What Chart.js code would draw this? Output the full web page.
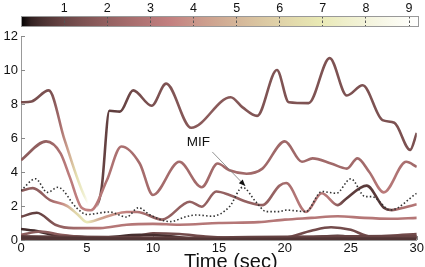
<!DOCTYPE html>
<html>
<head>
<meta charset="utf-8">
<script src="https://cdn.jsdelivr.net/npm/chart.js@4/dist/chart.umd.min.js"></script>
<style>
  html, body { margin: 0; padding: 0; background: #fff; overflow: hidden; }
  canvas { position: absolute; left: 0; top: 0; }
</style>
</head>
<body>
<canvas id="main" width="425" height="275"></canvas>
<canvas id="bar" width="425" height="32"></canvas>
<script>
// knots: time (s), value, and colour value along each line
const topT = [0, 0.8, 2.1, 3.3, 4.8, 5.5, 6.1, 6.7, 7.5, 8.5, 9.9, 11.0, 12.9, 15.9, 16.8, 17.9, 19.4, 20.3, 21.8, 23.4, 24.7, 25.9, 27.4, 28.3, 29.5, 30];
const topY = [8.1, 8.15, 8.8, 5.9, 2.6, 1.9, 3.0, 7.6, 7.55, 8.8, 7.9, 9.2, 6.6, 8.4, 7.8, 7.3, 10.0, 8.1, 8.05, 10.7, 8.5, 9.1, 7.05, 6.9, 5.3, 6.3];
const topShade = [[0, 1.3], [2.3, 1.4], [3.0, 2.6], [3.6, 4.5], [4.2, 6.5], [4.8, 7.8], [5.1, 9.2], [5.7, 9.2], [6.0, 1.0], [7, 0.8], [9, 1.3], [14, 1.8], [18, 1.5], [30, 1.4]];

const secT = [0, 1.9, 3.0, 3.7, 4.6, 5.3, 6.5, 7.6, 9.0, 10.0, 12.0, 13.7, 14.9, 15.8, 17.1, 18.3, 20.0, 21.3, 22.1, 23.5, 24.7, 25.5, 26.4, 27.5, 29.2, 30];
const secY = [4.7, 5.8, 5.1, 3.7, 1.9, 1.75, 3.5, 5.5, 4.5, 2.65, 4.6, 3.1, 4.5, 4.1, 3.9, 4.2, 5.8, 4.6, 4.8, 4.5, 4.2, 4.8, 4.0, 2.8, 4.6, 4.3];
const secShade = [[0, 1.8], [2, 2.0], [3.5, 3.2], [5, 3.5], [6.5, 2.8], [9, 2.5], [20, 2.3], [26, 2.4], [27.5, 3.2], [30, 2.3]];

const mifT = [0, 1.1, 2.0, 2.8, 4.2, 5.0, 6.7, 8.0, 8.9, 9.8, 11.3, 12.5, 13.3, 14.5, 15.8, 16.8, 17.8, 18.6, 19.6, 20.1, 21.6, 22.8, 23.9, 25.0, 26.1, 26.6, 28.0, 30];
const mifY = [2.9, 3.6, 2.8, 3.1, 1.9, 1.5, 1.65, 1.35, 1.9, 1.47, 1.08, 1.37, 1.47, 1.4, 1.96, 3.1, 2.25, 1.67, 1.67, 1.76, 1.67, 2.85, 2.75, 3.6, 2.55, 2.55, 1.76, 2.75];

const midT = [0, 0.9, 2.2, 3.5, 4.3, 5.0, 6.0, 7.0, 8.0, 8.8, 10.7, 12.8, 13.7, 14.8, 15.8, 17.1, 18.3, 19.6, 20.1, 21.6, 22.8, 24.0, 24.6, 26.2, 27.5, 28.1, 29.0, 30];
const midY = [2.9, 3.05, 2.35, 2.0, 1.5, 1.05, 1.25, 1.5, 1.65, 1.65, 1.2, 2.25, 1.96, 2.85, 2.65, 2.25, 2.05, 3.2, 3.35, 1.65, 2.75, 2.05, 2.4, 3.2, 1.9, 1.76, 1.9, 2.1];
const midShade = [[0, 1.8], [2, 2.0], [3, 3.5], [4, 6.0], [5, 7.0], [6, 4.5], [8, 3.5], [10, 2.0], [19, 2.0], [21, 3.0], [23.5, 3.0], [24.6, 0.8], [27.5, 0.7], [28.5, 2.5], [30, 3.0]];

const lowT = [0, 1.2, 2.6, 4.0, 6.0, 8.0, 10.0, 12.0, 15, 18, 20, 22, 24, 26, 28, 30];
const lowY = [1.37, 1.6, 0.9, 0.7, 0.7, 0.9, 0.95, 0.9, 1.0, 1.05, 1.2, 1.3, 1.4, 1.3, 1.25, 1.3];
const lowShade = [[0, 1.2], [1.2, 0.8], [3, 2.0], [6, 3.0], [30, 3.0]];

const darkT = [0, 1, 2.5, 4, 6, 9, 11, 13, 18, 22, 24, 26, 30];
const darkY = [0.65, 0.55, 0.3, 0.2, 0.15, 0.3, 0.25, 0.1, 0.08, 0.15, 0.25, 0.1, 0.15];
const darkShade = [[0, 0.4], [30, 0.6]];

const maroonT = [0, 1.5, 3, 5, 8, 12, 20, 26, 28, 30];
const maroonY = [0.3, 0.5, 0.3, 0.15, 0.1, 0.05, 0.05, 0.12, 0.2, 0.2];
const maroonShade = [[0, 1.8], [30, 1.5]];

const floorT = [0, 5, 10, 15, 20, 25, 30];
const floorY = [0.12, 0.08, 0.05, 0.03, 0.05, 0.06, 0.05];
const floorShade = [[0, 0.6], [30, 0.6]];

const layerT = [0, 4, 8, 12, 16, 20, 24, 28, 30];
const layerY = [0.2, 0.18, 0.15, 0.12, 0.15, 0.18, 0.2, 0.22, 0.2];
const layerShade = [[0, 0.9], [30, 1.0]];

const bumpT = [0, 8, 10, 12, 14, 17, 20, 22, 23.5, 25, 26.5, 28, 30];
const bumpY = [0.05, 0.1, 0.4, 0.35, 0.2, 0.1, 0.15, 0.55, 0.75, 0.6, 0.2, 0.25, 0.35];
const bumpShade = [[0, 1.2], [30, 1.2]];

const xTicksMax = 30;
const yTicksMax = 12;
const barTicks = [1, 2, 3, 4, 5, 6, 7, 8, 9];
const barMax = 9.23;

// matlab style "pink" map, 0 .. barMax
function pink(v) {
    const f = Math.min(1, Math.max(0, v / barMax));
    const hr = Math.min(1, f / 0.375);
    const hg = Math.min(1, Math.max(0, (f - 0.375) / 0.375));
    const hb = Math.min(1, Math.max(0, (f - 0.75) / 0.25));
    const r = Math.sqrt((2 * f + hr) / 3);
    const g = Math.sqrt((2 * f + hg) / 3);
    const b = Math.sqrt((2 * f + hb) / 3);
    return `rgb(${Math.round(r * 255)},${Math.round(g * 255)},${Math.round(b * 255)})`;
}

function shadeGrad(chart, stops) {
    const x = chart.scales.x;
    if (!chart.chartArea || !x) return pink(stops[0][1]);
    const g = chart.ctx.createLinearGradient(x.getPixelForValue(0), 0, x.getPixelForValue(xTicksMax), 0);
    stops.forEach(([t, c]) => g.addColorStop(t / xTicksMax, pink(c)));
    return g;
}

function pts(ts, ys) {
    return ts.map((t, i) => ({ x: t, y: ys[i] }));
}

function series(ts, ys, stops, width) {
    return {
        data: pts(ts, ys),
        borderColor: ctx => shadeGrad(ctx.chart, stops),
        borderWidth: width || 2.6,
        pointRadius: 0,
        cubicInterpolationMode: "monotone",
        fill: false
    };
}

const FONT = "'Liberation Sans', Arial, sans-serif";

// small inward tick marks like the original axes, plus the x title
const inwardTicks = {
    id: "inwardTicks",
    beforeDatasetsDraw(chart) {
        const { ctx, chartArea: a, scales: { x, y } } = chart;
        ctx.save();
        ctx.strokeStyle = "#888";
        ctx.lineWidth = 1;
        y.ticks.forEach(t => {
            const p = Math.round(y.getPixelForValue(t.value)) + 0.5;
            ctx.beginPath(); ctx.moveTo(a.left, p); ctx.lineTo(a.left + 4, p); ctx.stroke();
        });
        x.ticks.forEach(t => {
            const p = Math.round(x.getPixelForValue(t.value)) + 0.5;
            ctx.beginPath(); ctx.moveTo(p, a.bottom); ctx.lineTo(p, a.bottom - 4); ctx.stroke();
        });
        // title sits a little right of the axis centre in the original
        ctx.font = `20px ${FONT}`;
        ctx.fillStyle = "#111";
        ctx.textAlign = "center";
        ctx.textBaseline = "alphabetic";
        ctx.fillText("Time (sec)", x.getPixelForValue(15.9), a.bottom + 28);
        ctx.restore();
    }
};

// "MIF" label with its arrow
const mifLabel = {
    id: "mifLabel",
    afterDatasetsDraw(chart) {
        const { ctx, scales: { x, y } } = chart;
        const x0 = x.getPixelForValue(14.5), y0 = y.getPixelForValue(5.18);
        const x1 = x.getPixelForValue(17.0), y1 = y.getPixelForValue(3.18);
        ctx.save();
        ctx.font = `13.5px ${FONT}`;
        ctx.fillStyle = "#111";
        ctx.textAlign = "center";
        ctx.textBaseline = "middle";
        ctx.fillText("MIF", x.getPixelForValue(13.45), y.getPixelForValue(5.76));
        ctx.strokeStyle = "#777";
        ctx.lineWidth = 0.8;
        ctx.beginPath(); ctx.moveTo(x0, y0); ctx.lineTo(x1, y1); ctx.stroke();
        const ang = Math.atan2(y1 - y0, x1 - x0);
        ctx.fillStyle = "#111";
        ctx.beginPath();
        ctx.moveTo(x1, y1);
        ctx.lineTo(x1 - 7 * Math.cos(ang - 0.4), y1 - 7 * Math.sin(ang - 0.4));
        ctx.lineTo(x1 - 7 * Math.cos(ang + 0.4), y1 - 7 * Math.sin(ang + 0.4));
        ctx.closePath();
        ctx.fill();
        ctx.restore();
    }
};

const mifSet = {
    data: pts(mifT, mifY),
    borderColor: "#333",
    borderWidth: 1.6,
    borderDash: [1.5, 2.2],
    pointRadius: 0,
    cubicInterpolationMode: "monotone",
    fill: false
};

new Chart(document.getElementById("main"), {
    type: "line",
    data: {
        datasets: [
            series(floorT, floorY, floorShade, 3.5),
            series(layerT, layerY, layerShade, 3),
            series(maroonT, maroonY, maroonShade),
            series(darkT, darkY, darkShade),
            series(bumpT, bumpY, bumpShade),
            series(lowT, lowY, lowShade),
            mifSet,
            series(midT, midY, midShade),
            series(secT, secY, secShade),
            series(topT, topY, topShade)
        ]
    },
    options: {
        responsive: false,
        animation: false,
        layout: { padding: { left: 0, right: 7, top: 36, bottom: 0 } },
        plugins: { legend: { display: false }, tooltip: { enabled: false } },
        scales: {
            x: {
                type: "linear", min: 0, max: xTicksMax,
                ticks: { stepSize: 5, color: "#111", font: { family: FONT, size: 13 }, padding: 1, maxRotation: 0 },
                grid: { drawOnChartArea: false, drawTicks: false },
                border: { color: "#999" },
                afterFit: s => { s.height = 35; }
            },
            y: {
                min: 0, max: yTicksMax,
                ticks: { stepSize: 2, color: "#111", font: { family: FONT, size: 13 }, padding: 3 },
                grid: { drawOnChartArea: false, drawTicks: false },
                border: { color: "#999" },
                afterFit: s => { s.width = 21; }
            }
        }
    },
    plugins: [inwardTicks, mifLabel]
});

// colour bar on top
const barFill = {
    id: "barFill",
    beforeDraw(chart) {
        const { ctx, chartArea: a } = chart;
        const g = ctx.createLinearGradient(a.left, 0, a.right, 0);
        for (let i = 0; i <= 40; i++) g.addColorStop(i / 40, pink(barMax * i / 40));
        ctx.save();
        ctx.fillStyle = g;
        ctx.fillRect(a.left, a.top, a.right - a.left, a.bottom - a.top);
        ctx.restore();
    },
    afterDraw(chart) {
        const { ctx, chartArea: a } = chart;
        ctx.save();
        ctx.strokeStyle = "#999";
        ctx.lineWidth = 1;
        ctx.strokeRect(a.left + 0.5, a.top + 0.5, a.right - a.left - 1, a.bottom - a.top - 1);
        ctx.restore();
    }
};

new Chart(document.getElementById("bar"), {
    type: "line",
    data: { datasets: [] },
    options: {
        responsive: false,
        animation: false,
        layout: { padding: { left: 21, right: 6, top: 0, bottom: 5 } },
        plugins: { legend: { display: false }, tooltip: { enabled: false } },
        scales: {
            x: {
                type: "linear", position: "top", min: 0, max: barMax,
                afterBuildTicks: s => { s.ticks = barTicks.map(v => ({ value: v })); },
                ticks: { color: "#111", font: { family: FONT, size: 12.5 }, padding: 0, maxRotation: 0 },
                grid: { drawTicks: false, color: "#555", lineWidth: 1 },
                border: { display: false, dash: [2.5, 2] },
                afterFit: s => { s.height = 16; }
            },
            y: { display: false, min: 0, max: 1 }
        }
    },
    plugins: [barFill]
});
</script>
</body>
</html>
